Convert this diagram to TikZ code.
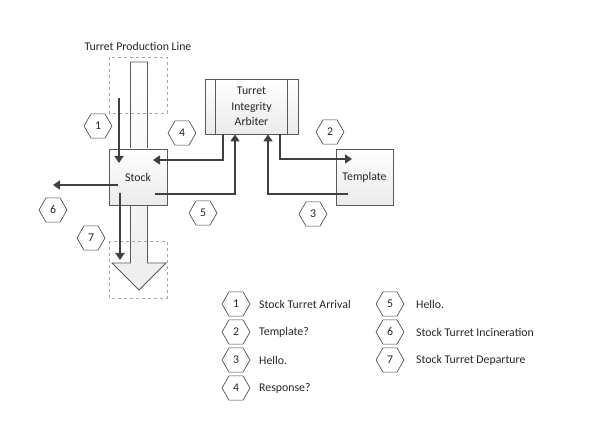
\documentclass[tikz,border=0pt]{standalone}
\usepackage{fontspec}
\setmainfont{Carlito}
\usetikzlibrary{shapes.geometric,arrows.meta}
\definecolor{ln}{HTML}{404040}
\definecolor{bx}{HTML}{595959}
\tikzset{
  txt/.style={font=\fontsize{11.8}{14}\selectfont,text=black!85},
  box/.style={txt,draw=bx,line width=0.8pt,top color=white,bottom color=gray!16,inner sep=0pt},
  hex/.style={txt,regular polygon,regular polygon sides=6,draw=ln,line width=0.6pt,fill=white,minimum size=28pt,inner sep=0pt},
  arr/.style={draw=ln,line width=1.7pt,-{Triangle[length=7pt,width=9pt]}},
  dsh/.style={draw=gray!70,dashed,line width=0.8pt},
  lbl/.style={txt,anchor=west,inner sep=0pt}
}
\begin{document}
\begin{tikzpicture}[x=1pt,y=-1pt]
\useasboundingbox[fill=white] (0,0) rectangle (591,443);
% big production line arrow
\shade[top color=white,bottom color=gray!14,draw=bx,line width=0.8pt]
  (130.5,62) -- (147.5,62) -- (147.5,263) -- (166,263) -- (139,290) -- (112,263) -- (130.5,263) -- cycle;
\node[txt] (title) at (138,46) {Turret Production Line};
\draw[dsh] (109,57) rectangle (167,113);
\draw[dsh] (109,241) rectangle (167,298);
% boxes
\node[box,minimum width=58pt,minimum height=56pt] (stock) at (138,177) {Stock};
\node[box,minimum width=57pt,minimum height=56pt] (tmpl) at (364.5,177) {Template};
\node[box,minimum width=93pt,minimum height=55pt,align=center,font=\fontsize{11.8}{15.5}\selectfont] (arb) at (251.5,106.5) {Turret\\Integrity\\Arbiter};
\draw[bx,line width=0.8pt] ([xshift=11pt]arb.north west) -- ([xshift=11pt]arb.south west);
\draw[bx,line width=0.8pt] ([xshift=-11pt]arb.north east) -- ([xshift=-11pt]arb.south east);
% connector coordinates
\coordinate (a1s) at (119,98);   \coordinate (a1e) at (119,163);
\coordinate (a4s) at (arb.south -| 223,0); \coordinate (a4m) at (223,160); \coordinate (a4e) at (153,160);
\coordinate (a5s) at (155,194);  \coordinate (a5m) at (235,194); \coordinate (a5e) at (arb.south -| 235,0);
\coordinate (a6s) at (118,185);  \coordinate (a6e) at (53,185);
\coordinate (a7s) at (120,193);  \coordinate (a7e) at (120,260);
\coordinate (a2s) at (arb.south -| 280,0); \coordinate (a2m) at (280,159); \coordinate (a2e) at (352,159);
\coordinate (a3s) at (348,194);  \coordinate (a3m) at (268,194); \coordinate (a3e) at (arb.south -| 268,0);
\draw[arr] (a1s) -- (a1e);
\draw[arr] (a4s) -- (a4m) -- (a4e);
\draw[arr] (a5s) -- (a5m) -- (a5e);
\draw[arr] (a6s) -- (a6e);
\draw[arr] (a7s) -- (a7e);
\draw[arr] (a2s) -- (a2m) -- (a2e);
\draw[arr] (a3s) -- (a3m) -- (a3e);
% hex labels
\node[hex] (h1) at (98,126) {1};
\node[hex] (h4) at (182,133) {4};
\node[hex] (h2) at (330,132) {2};
\node[hex] (h6) at (53,210) {6};
\node[hex] (h5) at (203,213) {5};
\node[hex] (h3) at (313,214) {3};
\node[hex] (h7) at (91,238) {7};
% legend
\node[hex] (l1) at (236,304) {1}; \node[lbl] (t1) at (259,304) {Stock Turret Arrival};
\node[hex] (l2) at (236,332) {2}; \node[lbl] (t2) at (259,332) {Template?};
\node[hex] (l3) at (236,360) {3}; \node[lbl] (t3) at (259,360) {Hello.};
\node[hex] (l4) at (236,388) {4}; \node[lbl] (t4) at (259,388) {Response?};
\node[hex] (l5) at (390,304) {5}; \node[lbl] (t5) at (416,304) {Hello.};
\node[hex] (l6) at (390,332) {6}; \node[lbl] (t6) at (416,332) {Stock Turret Incineration};
\node[hex] (l7) at (390,360) {7}; \node[lbl] (t7) at (416,360) {Stock Turret Departure};
\end{tikzpicture}
\end{document}
